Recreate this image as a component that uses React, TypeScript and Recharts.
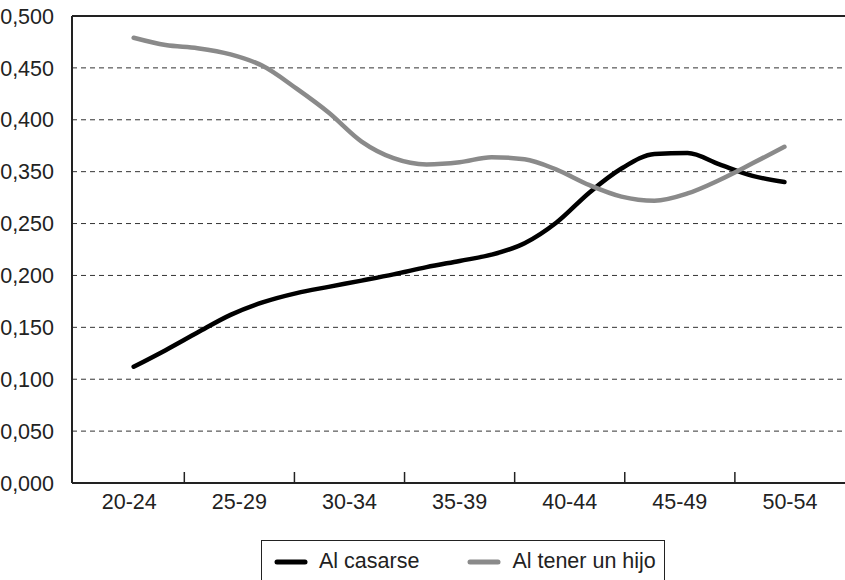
import { LineChart, Line, XAxis, YAxis, CartesianGrid, ReferenceLine } from 'recharts'

const categorias = ['20-24', '25-29', '30-34', '35-39', '40-44', '45-49', '50-54']
const posCategorias = [0, 1, 2, 3, 4, 5, 6]
const limitesCategorias = [0.5, 1.5, 2.5, 3.5, 4.5, 5.5]

const valoresY = [0, 0.05, 0.1, 0.15, 0.2, 0.25, 0.3, 0.35, 0.4, 0.45]
const etiquetasY = ['0,000', '0,050', '0,100', '0,150', '0,200', '0,250', '0,350', '0,400', '0,450', '0,500']

// posiciones de los puntos leídos sobre el eje de categorías
const posiciones = [0.04, 0.33, 0.62, 0.92, 1.21, 1.52, 1.81, 2.11, 2.4, 2.7, 3.0, 3.29, 3.59, 3.88, 4.18, 4.47, 4.77, 5.07, 5.36, 5.66, 5.95]
const alCasarse = [0.112, 0.128, 0.145, 0.162, 0.174, 0.183, 0.189, 0.195, 0.201, 0.208, 0.214, 0.22, 0.231, 0.251, 0.28, 0.303, 0.317, 0.318, 0.307, 0.296, 0.29]
const alTenerUnHijo = [0.429, 0.422, 0.419, 0.413, 0.402, 0.38, 0.357, 0.329, 0.313, 0.307, 0.309, 0.314, 0.312, 0.302, 0.287, 0.276, 0.272, 0.279, 0.292, 0.308, 0.324]

const series = [
  { key: 'casarse', nombre: 'Al casarse', color: '#000000' },
  { key: 'hijo', nombre: 'Al tener un hijo', color: '#8a8a8a' },
]

const data = posiciones.map((x, i) => ({ x, casarse: alCasarse[i], hijo: alTenerUnHijo[i] }))

const FONT = '"Liberation Sans", Arial, sans-serif'
const dominioX: [number, number] = [-0.52, 6.5]
const dominioY: [number, number] = [0, 0.45]
const textoEje = { fontSize: 21.5, fill: '#222', fontFamily: FONT }

export default function App() {
  return (
    <div style={{ position: 'absolute', left: 0, top: 0, width: 845, height: 580, overflow: 'hidden', background: '#fff', fontFamily: FONT }}>
      <LineChart width={845} height={580} data={data} margin={{ top: 16, right: 0, bottom: 58, left: 0 }}>
        <CartesianGrid
          xAxisId="cat"
          yAxisId="valor"
          vertical={false}
          stroke="#333"
          strokeDasharray="5 4"
          horizontalValues={valoresY.slice(1, -1)}
        />
        <XAxis
          xAxisId="marcas"
          type="number"
          dataKey="x"
          domain={dominioX}
          ticks={limitesCategorias}
          tickFormatter={() => ''}
          mirror
          tickSize={11}
          height={1}
          tickLine={{ stroke: '#222', strokeWidth: 1.5 }}
          axisLine={{ stroke: '#222', strokeWidth: 2 }}
        />
        <XAxis
          xAxisId="cat"
          type="number"
          dataKey="x"
          domain={dominioX}
          ticks={posCategorias}
          tickFormatter={(v: number) => categorias[Math.round(v)]}
          axisLine={false}
          tickLine={false}
          tickMargin={5}
          height={39}
          interval={0}
          tick={textoEje}
        />
        <YAxis
          yAxisId="marcasY"
          type="number"
          domain={dominioY}
          ticks={valoresY}
          interval={0}
          width={1}
          mirror
          tickSize={10}
          tickFormatter={() => ''}
          tickLine={{ stroke: '#222', strokeWidth: 1.5 }}
          axisLine={false}
        />
        <YAxis
          yAxisId="valor"
          type="number"
          domain={dominioY}
          ticks={valoresY}
          interval={0}
          width={72}
          tickFormatter={(v: number, i: number) => etiquetasY[i]}
          tickLine={false}
          tickMargin={12}
          axisLine={{ stroke: '#222', strokeWidth: 2 }}
          tick={textoEje}
        />
        <ReferenceLine y={0.45} xAxisId="cat" yAxisId="valor" stroke="#222" strokeWidth={2} />
        {series.map(s => (
          <Line
            key={s.key}
            xAxisId="cat"
            yAxisId="valor"
            type="monotone"
            dataKey={s.key}
            name={s.nombre}
            stroke={s.color}
            strokeWidth={4.5}
            strokeLinecap="round"
            strokeLinejoin="round"
            dot={false}
            activeDot={false}
            isAnimationActive={false}
          />
        ))}
      </LineChart>
      <div
        style={{
          position: 'absolute',
          left: 261,
          top: 540,
          width: 404,
          height: 60,
          border: '1.5px solid #222',
          boxSizing: 'border-box',
          display: 'flex',
          alignItems: 'flex-start',
          paddingTop: 8,
          paddingLeft: 12,
        }}
      >
        {series.map((s, i) => (
          <div key={s.key} style={{ display: 'flex', alignItems: 'center', marginRight: i === 0 ? 48 : 0 }}>
            <svg width={34} height={8} style={{ marginRight: 11 }}>
              <line x1={3} y1={4} x2={31} y2={4} stroke={s.color} strokeWidth={5} strokeLinecap="round" />
            </svg>
            <span style={{ fontSize: 21.5, color: '#222', whiteSpace: 'nowrap' }}>{s.nombre}</span>
          </div>
        ))}
      </div>
    </div>
  )
}
